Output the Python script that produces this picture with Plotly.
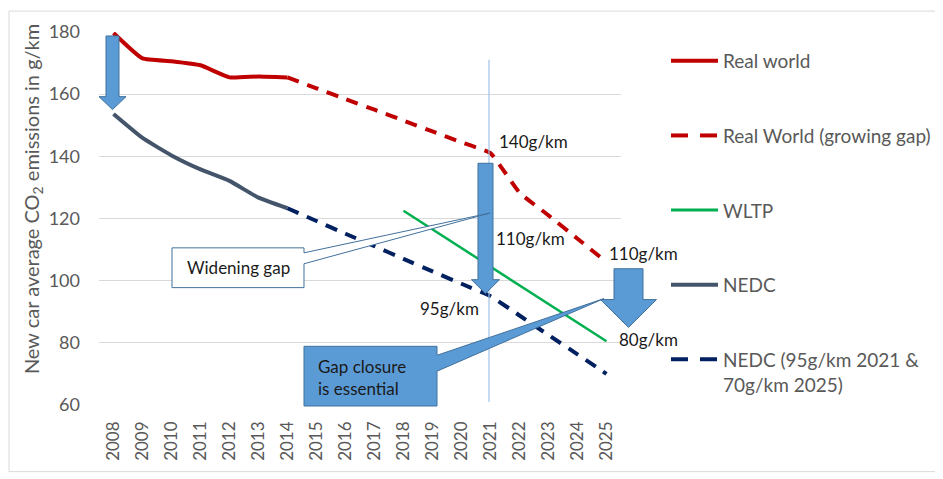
import plotly.graph_objects as go

# ---------------- data ----------------
years = [str(y) for y in range(2008, 2026)]

real_years = ["2008", "2009", "2010", "2011", "2012", "2013", "2014"]
real_world = [179.7, 171.5, 170.6, 169.3, 165.4, 165.7, 165.4]

gap_years = ["2014", "2015", "2016", "2017", "2018", "2019", "2020", "2021", "2022", "2023", "2024", "2025"]
real_gap = [165.4, 161.9, 158.4, 155.0, 151.5, 148.0, 144.5, 141.0, 128.3, 121.0, 113.5, 106.0]

wltp_years = ["2018", "2019", "2020", "2021", "2022", "2023", "2024", "2025"]
wltp = [122.5, 116.5, 110.5, 104.5, 98.5, 92.5, 86.5, 80.5]

nedc_years = ["2008", "2009", "2010", "2011", "2012", "2013", "2014"]
nedc = [153.6, 145.9, 140.3, 135.8, 132.1, 126.7, 123.3]

nedc_t_years = ["2014", "2015", "2016", "2017", "2018", "2019", "2020", "2021", "2022", "2023", "2024", "2025"]
nedc_target = [123.3, 119.2, 115.1, 111.1, 107.0, 103.0, 99.0, 95.0, 88.8, 82.5, 76.3, 70.0]

legend_names = ["Real world", "Real World (growing gap)", "WLTP", "NEDC",
                "NEDC (95g/km 2021 &<br>70g/km 2025)"]

# ---------------- style ----------------
# the page body has an 8px margin, so the figure starts at (8, 8) in the window
OFF = 8
W, H = 943 - OFF, 479 - OFF
L, R, T, B = 99, 621, 30, 405          # plot area in window pixels
FONT = "Lato"
RED, NAVY, SLATE, GREEN = "#C00000", "#002060", "#44546A", "#00B050"
BLUE, BLUE_EDGE = "#5B9BD5", "#41719C"
GRAY_TXT = "#595959"


def px(x):
    return (x - L) / (R - L)


def py(y):
    return (B - y) / (B - T)


def path(points):
    return "M " + " L ".join(f"{px(x):.5f},{py(y):.5f}" for x, y in points) + " Z"


fig = go.Figure()

fig.add_trace(go.Scatter(x=real_years, y=real_world, mode="lines", name=legend_names[0],
                         line=dict(color=RED, width=4, shape="spline", smoothing=0.4)))
fig.add_trace(go.Scatter(x=gap_years, y=real_gap, mode="lines", name=legend_names[1],
                         line=dict(color=RED, width=4, dash="12px,9px", shape="spline", smoothing=0.4)))
fig.add_trace(go.Scatter(x=wltp_years, y=wltp, mode="lines", name=legend_names[2],
                         line=dict(color=GREEN, width=2.5)))
fig.add_trace(go.Scatter(x=nedc_years, y=nedc, mode="lines", name=legend_names[3],
                         line=dict(color=SLATE, width=4, shape="spline", smoothing=0.4)))
fig.add_trace(go.Scatter(x=nedc_t_years, y=nedc_target, mode="lines", name=legend_names[4],
                         line=dict(color=NAVY, width=4, dash="12px,9px", shape="spline", smoothing=0.4)))

shapes = []
annots = []

# outer chart border
shapes.append(dict(type="rect", xref="paper", yref="paper", x0=px(9), x1=px(941), y0=py(9), y1=py(472),
                   line=dict(color="#D9D9D9", width=1), fillcolor="rgba(0,0,0,0)", layer="below"))

# vertical marker at 2021
shapes.append(dict(type="line", xref="paper", yref="paper", x0=px(489), x1=px(489), y0=py(58), y1=py(402),
                   line=dict(color="#9DC3E6", width=1.2), layer="above"))


def down_arrow(cx, top, neck, tip, bw, hw):
    return dict(type="path", xref="paper", yref="paper", layer="above",
                path=path([(cx - bw, top), (cx + bw, top), (cx + bw, neck), (cx + hw, neck),
                           (cx, tip), (cx - hw, neck), (cx - bw, neck)]),
                fillcolor=BLUE, line=dict(color=BLUE_EDGE, width=1))


shapes.append(down_arrow(112.5, 34, 95, 108, 6.5, 13.5))
shapes.append(down_arrow(485.5, 162, 279, 293, 7.5, 14))
shapes.append(down_arrow(628.5, 268, 299, 327, 14.5, 28))

# "Widening gap" callout (white, wedge pointer)
shapes.append(dict(type="path", xref="paper", yref="paper", layer="above",
                   path=path([(172, 247), (304, 247), (304, 252), (490, 212), (304, 263), (304, 287), (172, 287)]),
                   fillcolor="white", line=dict(color=BLUE_EDGE, width=1)))
annots.append(dict(xref="paper", yref="paper", x=px(238), y=py(267), text="Widening gap", showarrow=False,
                   xanchor="center", yanchor="middle", font=dict(family=FONT, size=17, color="#1a1a1a")))

# "Gap closure is essential" callout (blue, wedge pointer)
shapes.append(dict(type="path", xref="paper", yref="paper", layer="above",
                   path=path([(304, 346), (437, 346), (437, 355), (604, 298), (437, 371), (437, 406), (304, 406)]),
                   fillcolor=BLUE, line=dict(color=BLUE_EDGE, width=1)))
annots.append(dict(xref="paper", yref="paper", x=px(316), y=py(377), text="Gap closure<br>is essential",
                   showarrow=False, xanchor="left", yanchor="middle", align="left",
                   font=dict(family=FONT, size=17, color="#1a1a1a")))

# value labels
for txt, x, y, anc in [("140g/km", 497, 140, "left"), ("110g/km", 494, 238, "left"),
                       ("95g/km", 481, 308, "right"), ("110g/km", 607, 253, "left"),
                       ("80g/km", 617, 339, "left")]:
    annots.append(dict(xref="paper", yref="paper", x=px(x), y=py(y), text=txt, showarrow=False,
                       xanchor=anc, yanchor="middle", font=dict(family=FONT, size=17, color="#1a1a1a")))

# custom legend
legend_rows = [(59, RED, None), (134, RED, "dash"), (209, GREEN, None), (284, SLATE, None), (359, NAVY, "dash")]
for (y, col, style), name in zip(legend_rows, legend_names):
    if style == "dash":
        for a, b in [(671, 688), (700, 717)]:
            shapes.append(dict(type="line", xref="paper", yref="paper", x0=px(a), x1=px(b), y0=py(y), y1=py(y),
                               line=dict(color=col, width=4)))
    else:
        shapes.append(dict(type="line", xref="paper", yref="paper", x0=px(671), x1=px(718), y0=py(y), y1=py(y),
                           line=dict(color=col, width=4 if col != GREEN else 3)))
    multi = "<br>" in name
    annots.append(dict(xref="paper", yref="paper", x=px(721), y=py(y - 13) if multi else py(y),
                       text=name, showarrow=False,
                       xanchor="left", yanchor="top" if multi else "middle", align="left",
                       font=dict(family=FONT, size=19, color=GRAY_TXT)))

# y axis title
annots.append(dict(xref="paper", yref="paper", x=px(32), y=py(198), text="New car average CO<sub>2</sub> emissions in g/km",
                   showarrow=False, textangle=-90, xanchor="center", yanchor="middle",
                   font=dict(family=FONT, size=20, color=GRAY_TXT)))

fig.update_layout(
    width=W, height=H,
    margin=dict(l=L - OFF, r=(W + OFF) - R, t=T - OFF, b=(H + OFF) - B, pad=0),
    paper_bgcolor="white", plot_bgcolor="white",
    showlegend=False,
    shapes=shapes, annotations=annots,
    font=dict(family=FONT, color=GRAY_TXT),
)
fig.update_xaxes(type="category", categoryorder="array", categoryarray=years, tickvals=years, ticktext=years,
                 range=[-0.5, len(years) - 0.5], tickangle=-90, showgrid=False, showline=False, ticks="",
                 ticklabelstandoff=12, tickfont=dict(family=FONT, size=17, color=GRAY_TXT))
fig.update_yaxes(range=[60, 180], tickvals=[60, 80, 100, 120, 140, 160, 180], showgrid=True,
                 gridcolor="#D9D9D9", gridwidth=1, zeroline=False, showline=False, ticks="",
                 ticklabelstandoff=18, tickfont=dict(family=FONT, size=18, color=GRAY_TXT))

fig.write_html("out.html")
